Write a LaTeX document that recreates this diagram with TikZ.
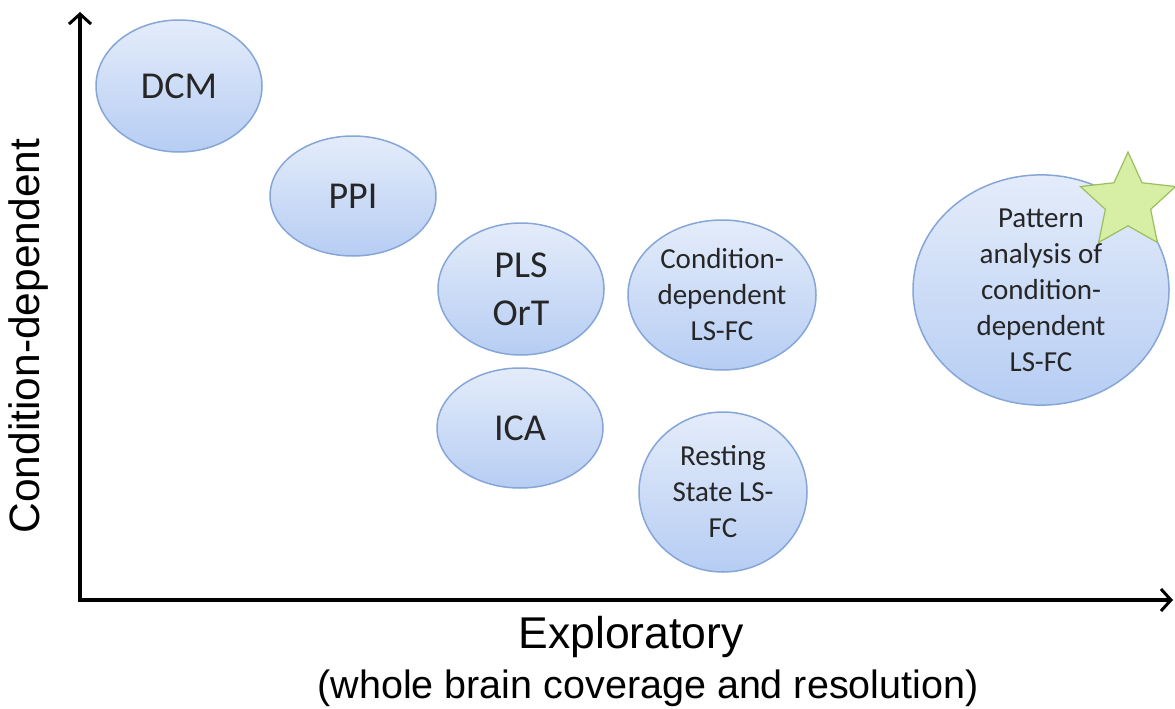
\documentclass[tikz,border=0pt]{standalone}
\usepackage{fontspec}
\setmainfont{Liberation Sans}
\newfontfamily\calib{Carlito}
\usetikzlibrary{shapes.geometric,arrows.meta}
\definecolor{ellborder}{HTML}{86A6D8}
\definecolor{elltop}{HTML}{E4ECFA}
\definecolor{ellbot}{HTML}{B6CDF3}
\definecolor{txt}{HTML}{262626}
\definecolor{starfill}{HTML}{D6EFA4}
\definecolor{starborder}{HTML}{9CBF5E}
\tikzset{
  blob/.style={ellipse, draw=ellborder, line width=1.5pt, top color=elltop, bottom color=ellbot,
    inner sep=0pt, align=center, text=txt, font=\calib\fontsize{38}{48}\selectfont},
  blobsmall/.style={blob, font=\calib\fontsize{29}{36}\selectfont},
  axis/.style={line width=3.2pt, {Straight Barb[length=10pt,width=22pt,line width=3pt]}-{Straight Barb[length=10pt,width=22pt,line width=3pt]}},
  axlabel/.style={text=black, align=center, inner sep=0pt}
}
\begin{document}
\begin{tikzpicture}[x=1pt,y=-1pt]
\useasboundingbox (0,0) rectangle (1175,709);
% axes
\coordinate (ytop) at (80,12);
\coordinate (xend) at (1173,600);
\draw[axis] (ytop) |- (xend);
% axis labels
\node[axlabel, rotate=90, font=\fontsize{42.5}{51}\selectfont] (ylab) at (29,336) {Condition-dependent};
\node[axlabel, font=\fontsize{44.5}{51}\selectfont] (xlab1) at (631,637) {Exploratory};
\node[axlabel, font=\fontsize{39.5}{51}\selectfont] (xlab2) at (648,688) {(whole brain coverage and resolution)};
% ellipses
\node[blob, minimum width=166pt, minimum height=132pt] (dcm) at (179,86) {DCM};
\node[blob, minimum width=166pt, minimum height=120pt] (ppi) at (353,196) {PPI};
\node[blob, minimum width=166pt, minimum height=132pt] (pls) at (521,289) {PLS\\OrT};
\node[blob, minimum width=166pt, minimum height=120pt] (ica) at (520,428) {ICA};
\node[blobsmall, minimum width=188pt, minimum height=150pt] (cdf) at (722,295) {Condition-\\dependent\\LS-FC};
\node[blobsmall, minimum width=168pt, minimum height=160pt] (rest) at (723,492) {Resting\\State LS-\\FC};
\node[blobsmall, minimum width=256pt, minimum height=190pt] (pat) at (1041,290) {Pattern\\analysis of\\condition-\\dependent\\LS-FC};
% star
\node[star, star points=5, star point ratio=2.1, draw=starborder, fill=starfill, line width=1.2pt,
  minimum size=100pt, inner sep=0pt] (st) at (1128,202) {};
\end{tikzpicture}
\end{document}
